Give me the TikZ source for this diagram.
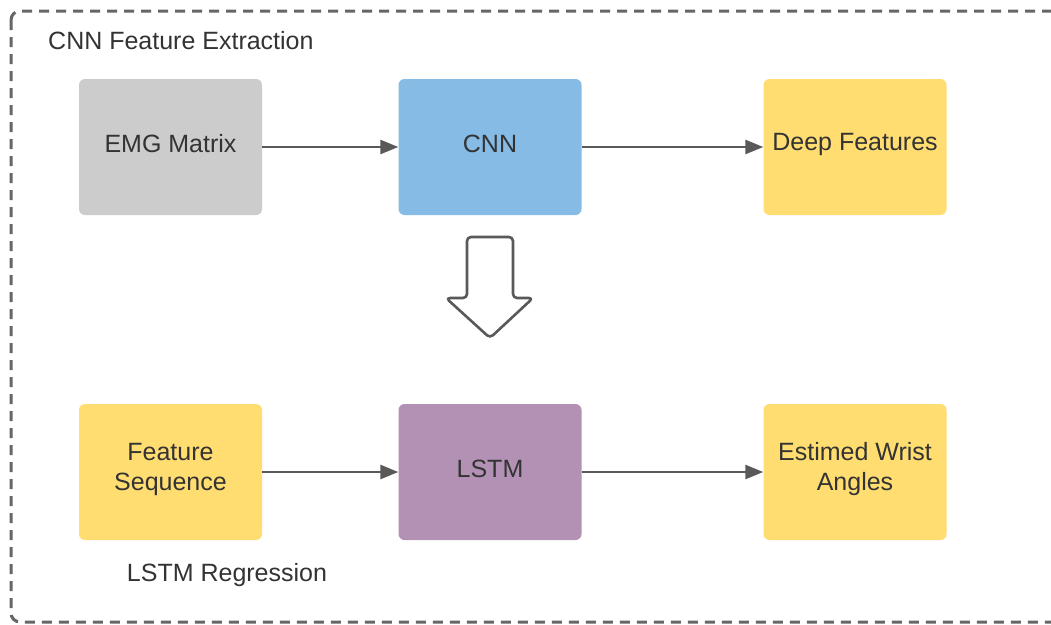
\documentclass[tikz,border=0pt]{standalone}
\usepackage{fontspec}
\setmainfont{Liberation Sans}
\usetikzlibrary{arrows.meta}
\definecolor{txt}{HTML}{333333}
\definecolor{edge}{HTML}{595959}
\definecolor{frame}{HTML}{666666}
\definecolor{grayfill}{HTML}{CCCCCC}
\definecolor{bluefill}{HTML}{85BBE5}
\definecolor{yellowfill}{HTML}{FFDD71}
\definecolor{purplefill}{HTML}{B391B5}
\tikzset{
  block/.style={rectangle, rounded corners=6pt, minimum width=183pt, minimum height=136pt,
    inner sep=0pt},
  blocktext/.style={text=txt, align=center, font=\fontsize{25}{30}\selectfont,
    inner sep=0pt, yshift=3pt},
  flow/.style={draw=edge, line width=2.6pt, -{Triangle[length=18pt,width=14pt]}},
  caption/.style={text=txt, font=\fontsize{25}{30}\selectfont, inner sep=0pt}
}
\begin{document}
\begin{tikzpicture}[x=1pt,y=-1pt]
\useasboundingbox (0,0) rectangle (1051,624);
\clip (0,0) rectangle (1051,624);
\fill[white] (0,0) rectangle (1051,624);
% dashed group frame
\draw[frame, line width=3pt, dash pattern=on 10pt off 7pt, rounded corners=9pt]
  (11,11) rectangle (1070,622);
\node[caption, anchor=west] (title1) at (48,41) {CNN Feature Extraction};
\node[caption] (title2) at (227,575) {LSTM Regression};
% upper row
\node[block, fill=grayfill, label={[blocktext]center:EMG Matrix}] (emg) at (170.5,147) {};
\node[block, fill=bluefill, label={[blocktext]center:CNN}] (cnn) at (490,147) {};
\node[block, fill=yellowfill, label={[blocktext]center:Deep Features}] (deep) at (855,147) {};
% lower row
\node[block, fill=yellowfill, label={[blocktext]center:Feature\\Sequence}] (seq) at (170.5,472) {};
\node[block, fill=purplefill, label={[blocktext]center:LSTM}] (lstm) at (490,472) {};
\node[block, fill=yellowfill, label={[blocktext]center:Estimed Wrist\\Angles}] (out) at (855,472) {};
\draw[flow] (emg) -- (cnn);
\draw[flow] (cnn) -- (deep);
\draw[flow] (seq) -- (lstm);
\draw[flow] (lstm) -- (out);
% hollow block arrow between the stages
\draw[edge, fill=white, line width=2.6pt, rounded corners=4pt, line join=round]
  (467,237) -- (513,237) -- (513,298) -- (533,298) -- (490,338) -- (446,298) -- (467,298) -- cycle;
\end{tikzpicture}
\end{document}
